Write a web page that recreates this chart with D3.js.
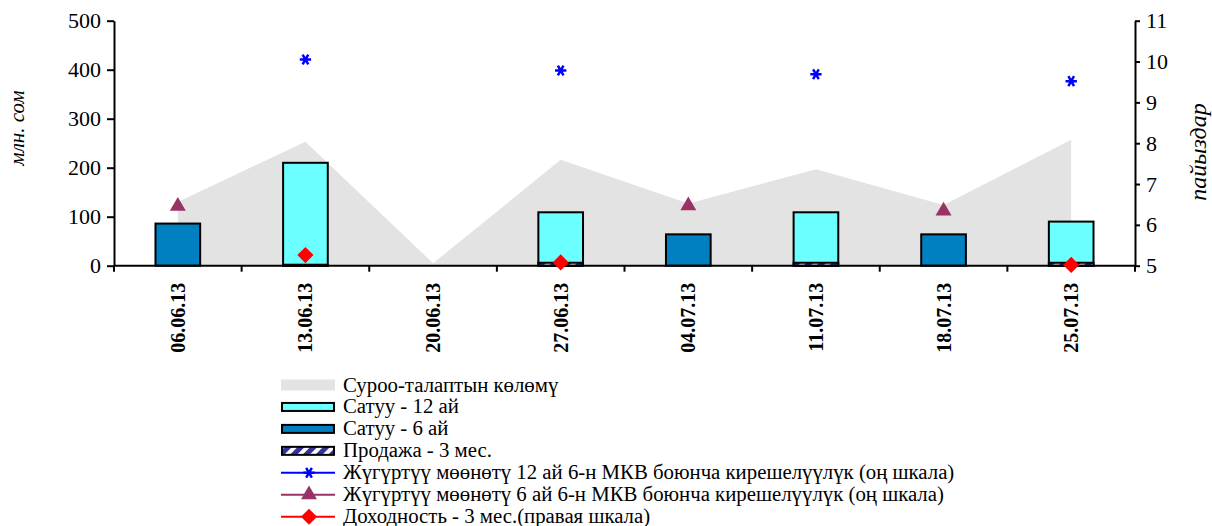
<html>
<head>
<meta charset="utf-8">
<title>Chart</title>
<script src="https://d3js.org/d3.v7.min.js"></script>
<style>
  body { margin: 0; background: #fff; }
</style>
</head>
<body>
<svg id="chart" width="1212" height="526" style="font-family: 'Liberation Serif'"></svg>
<script>
// data
var dates = ["06.06.13", "13.06.13", "20.06.13", "27.06.13", "04.07.13", "11.07.13", "18.07.13", "25.07.13"];
var demand = [130, 253, 5, 216, 127, 197, 124, 257];          // Суроо-талаптын көлөмү (area)
var sale12 = [null, 210, null, 109, null, 109, null, 90];     // Сатуу - 12 ай
var sale6 = [86, null, null, null, 64, null, 64, null];       // Сатуу - 6 ай
var sale3 = [null, 2, null, 6, null, 6, null, 6];             // Продажа - 3 мес.
var yield12 = [null, 10.05, null, 9.78, null, 9.69, null, 9.52];
var yield6 = [6.46, null, null, null, 6.47, null, 6.34, null];
var yield3 = [null, 5.26, null, 5.08, null, null, null, 5.02];
var leftTicks = [0, 100, 200, 300, 400, 500];
var rightTicks = [5, 6, 7, 8, 9, 10, 11];
var legendLabels = [
  "Суроо-талаптын көлөмү",
  "Сатуу - 12 ай",
  "Сатуу - 6 ай",
  "Продажа - 3 мес.",
  "Жүгүртүү мөөнөтү 12 ай 6-н МКВ боюнча кирешелүүлүк (оң шкала)",
  "Жүгүртүү мөөнөтү 6 ай 6-н МКВ боюнча кирешелүүлүк (оң шкала)",
  "Доходность - 3 мес.(правая шкала)"
];

var FONT = "'Liberation Serif', 'Times New Roman', serif";
var plotL = 114, plotR = 1135, plotT = 20.7, plotB = 265.7;
var svg = d3.select("#chart");

// hatch pattern for the 3 month bars
var defs = svg.append("defs");
var pat = defs.append("pattern")
  .attr("id", "hatch")
  .attr("patternUnits", "userSpaceOnUse")
  .attr("width", 9).attr("height", 9)
  .attr("patternTransform", "rotate(45)");
pat.append("rect").attr("width", 9).attr("height", 9).attr("fill", "#fff");
pat.append("rect").attr("width", 5).attr("height", 9).attr("fill", "#333399");

var x = d3.scaleBand().domain(dates).range([plotL, plotR]).paddingInner(0).paddingOuter(0);
var y = d3.scaleLinear().domain([0, 500]).range([plotB, plotT]);
var y2 = d3.scaleLinear().domain([5, 11]).range([plotB, plotT]);
var cx = function (i) { return x(dates[i]) + x.bandwidth() / 2; };
var bw = x.bandwidth() * 0.35;

// demand area
var area = d3.area()
  .x(function (d, i) { return cx(i); })
  .y0(y(0))
  .y1(function (d) { return y(d); });
svg.append("path").datum(demand)
  .attr("d", area)
  .attr("fill", "#e3e3e3");

// bars
function bars(data, fill) {
  svg.append("g").selectAll("rect")
    .data(data.map(function (v, i) { return {v: v, i: i}; }).filter(function (d) { return d.v != null; }))
    .enter().append("rect")
    .attr("x", function (d) { return cx(d.i) - bw / 2; })
    .attr("y", function (d) { return y(d.v); })
    .attr("width", bw)
    .attr("height", function (d) { return y(0) - y(d.v); })
    .attr("fill", fill)
    .attr("stroke", "#000")
    .attr("stroke-width", 2);
}
bars(sale6, "#0080c0");
bars(sale12, "#6bffff");
bars(sale3, "url(#hatch)");

// axes
var xAxis = svg.append("g")
  .attr("transform", "translate(0," + plotB + ")");
xAxis.append("line").attr("x1", plotL).attr("x2", plotR).attr("stroke", "#000").attr("stroke-width", 2);
xAxis.selectAll("line.tk")
  .data(d3.range(dates.length + 1))
  .enter().append("line")
  .attr("class", "tk")
  .attr("x1", function (d) { return plotL + d * x.bandwidth(); })
  .attr("x2", function (d) { return plotL + d * x.bandwidth(); })
  .attr("y1", 0).attr("y2", 6)
  .attr("stroke", "#000").attr("stroke-width", 2);
xAxis.selectAll("text.lbl")
  .data(dates)
  .enter().append("text")
  .attr("class", "lbl")
  .attr("transform", function (d, i) { return "translate(" + (cx(i) + 7) + ",17) rotate(-90)"; })
  .attr("text-anchor", "end")
  .style("font-family", FONT)
  .style("font-size", "20px")
  .style("font-weight", "bold")
  .text(function (d) { return d; });

var yAxis = svg.append("g")
  .attr("transform", "translate(" + plotL + ",0)")
  .call(d3.axisLeft(y).tickValues(leftTicks).tickSize(7).tickPadding(6).tickSizeOuter(0));
var y2Axis = svg.append("g")
  .attr("transform", "translate(" + plotR + ",0)")
  .call(d3.axisRight(y2).tickValues(rightTicks).tickFormat(d3.format("d")).tickSize(5).tickPadding(6).tickSizeOuter(0));
[yAxis, y2Axis].forEach(function (a) {
  a.select(".domain").attr("stroke-width", 2);
  a.selectAll(".tick line").attr("stroke-width", 2);
  a.selectAll("text").style("font-size", "22px").style("font-family", FONT).attr("fill", "#000");
});

// axis titles
svg.append("text")
  .attr("transform", "translate(24,128) rotate(-90)")
  .attr("text-anchor", "middle")
  .style("font-family", FONT)
  .style("font-size", "21px").style("font-style", "italic")
  .text("млн. сом");
svg.append("text")
  .attr("transform", "translate(1206,152) rotate(-90)")
  .attr("text-anchor", "middle")
  .style("font-family", FONT)
  .style("font-size", "24px").style("font-style", "italic")
  .text("пайыздар");

// markers
var star = d3.symbol().type(d3.symbolAsterisk).size(90);
var tri = d3.symbol().type(d3.symbolTriangle).size(110);
var dia = d3.symbol().type(d3.symbolSquare).size(130);
function markers(data, sym, color, stroke, rot) {
  svg.append("g").selectAll("path")
    .data(data.map(function (v, i) { return {v: v, i: i}; }).filter(function (d) { return d.v != null; }))
    .enter().append("path")
    .attr("transform", function (d) { return "translate(" + cx(d.i) + "," + y2(d.v) + ") rotate(" + rot + ")"; })
    .attr("d", sym)
    .attr("fill", stroke ? "none" : color)
    .attr("stroke", stroke ? color : "none")
    .attr("stroke-width", stroke ? 2.5 : 0);
}
markers(yield12, star, "#0000ff", true, 90);
markers(yield6, tri, "#993366", false, 0);
markers(yield3, dia, "#ff0000", false, 45);

// legend
var lg = svg.append("g").attr("transform", "translate(281,385)");
var rowH = 21.95;
legendLabels.forEach(function (t, i) {
  var g = lg.append("g").attr("transform", "translate(0," + (i * rowH) + ")");
  if (i === 0) {
    g.append("rect").attr("x", 0).attr("y", -5.5).attr("width", 54).attr("height", 11).attr("fill", "#e3e3e3");
  } else if (i <= 3) {
    var f = i === 1 ? "#6bffff" : i === 2 ? "#0080c0" : "url(#hatch)";
    g.append("rect").attr("x", 1).attr("y", -4).attr("width", 52).attr("height", 8)
      .attr("fill", f).attr("stroke", "#000").attr("stroke-width", 2);
  } else {
    var c = i === 4 ? "#0000ff" : i === 5 ? "#993366" : "#ff0000";
    g.append("line").attr("x1", 0).attr("x2", 54).attr("stroke", c).attr("stroke-width", 2);
    var s = i === 4 ? star : i === 5 ? tri : dia;
    g.append("path").attr("transform", "translate(28,0) rotate(" + (i === 4 ? 90 : i === 6 ? 45 : 0) + ")").attr("d", s)
      .attr("fill", i === 4 ? "none" : c)
      .attr("stroke", i === 4 ? c : "none").attr("stroke-width", 2.5);
  }
  g.append("text").attr("x", 62).attr("y", 6.5)
    .style("font-family", FONT)
    .style("font-size", "20.8px")
    .text(t);
});
</script>
</body>
</html>
